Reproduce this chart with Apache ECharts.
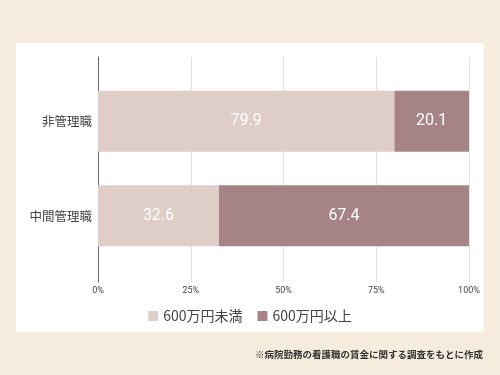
<!DOCTYPE html>
<html><head><meta charset="utf-8">
<script src="https://cdn.jsdelivr.net/npm/echarts@6/dist/echarts.min.js"></script>
<style>html,body{margin:0;padding:0;background:#f6ecde;}#c{width:500px;height:375px;}</style>
</head><body><div id="c"></div>
<script>
const categories = ['非管理職', '中間管理職'];
const seriesNames = ['600万円未満', '600万円以上'];
const below600 = [79.9, 32.6];
const above600 = [20.1, 67.4];
const xTicks = [0, 25, 50, 75, 100];
const footnote = '※病院勤務の看護職の賃金に関する調査をもとに作成';

const chart = echarts.init(document.getElementById('c'), null, {renderer: 'canvas'});
const font = '"Noto Sans CJK JP", Roboto, sans-serif';
chart.setOption({
  backgroundColor: '#f6ecde',
  animation: false,
  textStyle: {fontFamily: font},
  graphic: [
    {type: 'rect', z: -10, shape: {x: 16, y: 43, width: 468, height: 289}, style: {fill: '#ffffff'}},
    {type: 'text', right: 17, top: 350, style: {text: footnote, fill: '#333', font: 'bold 9.5px ' + font}}
  ],
  grid: [
    {left: 98, right: 31, top: 57, bottom: 93},
    {left: 98, right: 31, top: 74, bottom: 112}
  ],
  legend: {
    top: 304, left: 'center', itemWidth: 10, itemHeight: 10, itemGap: 15,
    icon: 'rect',
    textStyle: {fontSize: 14, color: '#444', fontFamily: font},
    data: seriesNames
  },
  xAxis: [{
    gridIndex: 0, type: 'value', min: xTicks[0], max: xTicks[xTicks.length - 1], interval: 25,
    axisLabel: {formatter: '{value}%', fontSize: 9, color: '#444', margin: 4, fontFamily: 'Roboto, sans-serif'},
    splitLine: {lineStyle: {color: '#e0e0e0'}},
    axisLine: {show: false}, axisTick: {show: false}
  }, {
    gridIndex: 1, type: 'value', min: xTicks[0], max: xTicks[xTicks.length - 1], interval: 25,
    axisLabel: {show: false}, splitLine: {show: false}, axisLine: {show: false}, axisTick: {show: false}
  }],
  yAxis: [{
    gridIndex: 0, type: 'value', min: 0, max: 1,
    axisLine: {show: true, lineStyle: {color: '#666', width: 1}},
    axisTick: {show: false}, axisLabel: {show: false}, splitLine: {show: false}
  }, {
    gridIndex: 1, type: 'category', data: categories, inverse: true,
    axisLine: {show: false},
    axisTick: {show: false},
    axisLabel: {fontSize: 12.5, color: '#444', margin: 6, fontFamily: font}
  }],
  series: [
    {name: seriesNames[0], type: 'bar', stack: 't', data: below600, barWidth: '64.5%',
     xAxisIndex: 1, yAxisIndex: 1,
     itemStyle: {color: '#dfcdc7'},
     label: {show: true, position: 'inside', color: '#fff', fontSize: 16, fontFamily: 'Roboto, sans-serif'}},
    {name: seriesNames[1], type: 'bar', stack: 't', data: above600, barWidth: '64.5%',
     xAxisIndex: 1, yAxisIndex: 1,
     itemStyle: {color: '#a68486'},
     label: {show: true, position: 'inside', color: '#fff', fontSize: 16, fontFamily: 'Roboto, sans-serif'}}
  ]
});
</script></body></html>
